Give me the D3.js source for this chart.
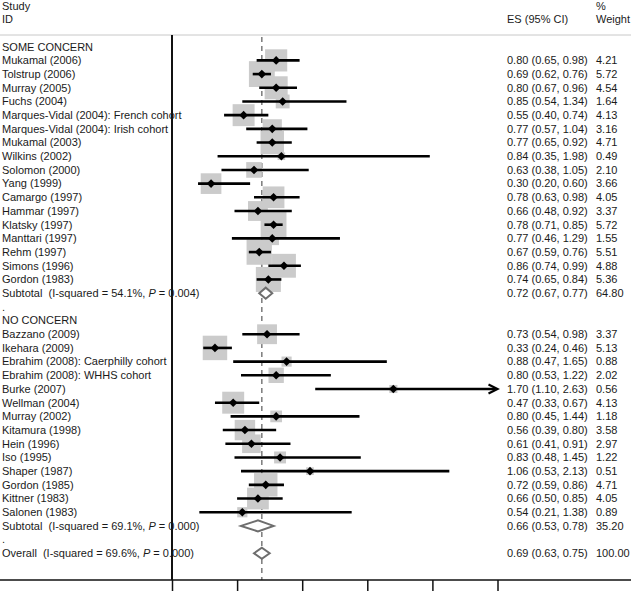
<!DOCTYPE html>
<html><head><meta charset="utf-8">
<script src="https://cdn.jsdelivr.net/npm/d3@7"></script>
<style>body{margin:0;background:#fff;} svg{display:block;} text{font-family:"Liberation Sans",Arial,sans-serif;font-size:11px;fill:#1a1a1a;}</style>
</head><body><svg id="c" width="631" height="591"></svg>
<script>
const group1Name = "SOME CONCERN";
const group1Studies = ["Mukamal (2006)","Tolstrup (2006)","Murray (2005)","Fuchs (2004)","Marques-Vidal (2004): French cohort","Marques-Vidal (2004): Irish cohort","Mukamal (2003)","Wilkins (2002)","Solomon (2000)","Yang (1999)","Camargo (1997)","Hammar (1997)","Klatsky (1997)","Manttari (1997)","Rehm (1997)","Simons (1996)","Gordon (1983)"];
const group1ES = [0.80,0.69,0.80,0.85,0.55,0.77,0.77,0.84,0.63,0.30,0.78,0.66,0.78,0.77,0.67,0.86,0.74];
const group1Lo = [0.65,0.62,0.67,0.54,0.40,0.57,0.65,0.35,0.38,0.20,0.63,0.48,0.71,0.46,0.59,0.74,0.65];
const group1Hi = [0.98,0.76,0.96,1.34,0.74,1.04,0.92,1.98,1.05,0.60,0.98,0.92,0.85,1.29,0.76,0.99,0.84];
const group1W  = ["4.21","5.72","4.54","1.64","4.13","3.16","4.71","0.49","2.10","3.66","4.05","3.37","5.72","1.55","5.51","4.88","5.36"];
const group1Sub = {label:"Subtotal  (I-squared = 54.1%, ", p:"0.004", es:0.72, lo:0.67, hi:0.77, w:"64.80"};

const group2Name = "NO CONCERN";
const group2Studies = ["Bazzano (2009)","Ikehara (2009)","Ebrahim (2008): Caerphilly cohort","Ebrahim (2008): WHHS cohort","Burke (2007)","Wellman (2004)","Murray (2002)","Kitamura (1998)","Hein (1996)","Iso (1995)","Shaper (1987)","Gordon (1985)","Kittner (1983)","Salonen (1983)"];
const group2ES = [0.73,0.33,0.88,0.80,1.70,0.47,0.80,0.56,0.61,0.83,1.06,0.72,0.66,0.54];
const group2Lo = [0.54,0.24,0.47,0.53,1.10,0.33,0.45,0.39,0.41,0.48,0.53,0.59,0.50,0.21];
const group2Hi = [0.98,0.46,1.65,1.22,2.63,0.67,1.44,0.80,0.91,1.45,2.13,0.86,0.85,1.38];
const group2W  = ["3.37","5.13","0.88","2.02","0.56","4.13","1.18","3.58","2.97","1.22","0.51","4.71","4.05","0.89"];
const group2Sub = {label:"Subtotal  (I-squared = 69.1%, ", p:"0.000", es:0.66, lo:0.53, hi:0.78, w:"35.20"};

const overall = {label:"Overall  (I-squared = 69.6%, ", p:"0.000", es:0.69, lo:0.63, hi:0.75, w:"100.00"};
const xTicks = [0,0.5,1,1.5,2,2.5];

const fmt = d3.format(".2f");
// build rows
const rows = [];
function addGroup(name, st, es, lo, hi, w, sub){
  rows.push({type:"head", label:name});
  st.forEach((s,i)=>rows.push({type:"study", label:s, es:es[i], lo:lo[i], hi:hi[i], w:w[i]}));
  rows.push(Object.assign({type:"sub"}, sub));
  rows.push({type:"dot"});
}
addGroup(group1Name, group1Studies, group1ES, group1Lo, group1Hi, group1W, group1Sub);
addGroup(group2Name, group2Studies, group2ES, group2Lo, group2Hi, group2W, group2Sub);
rows.push(Object.assign({type:"sub"}, overall));
rows.forEach((r,i)=>r.i=i);

const svg = d3.select("#c");
const x = d3.scaleLinear().domain([0,2.5]).range([172,497.5]);
const y = d3.scaleLinear().domain([0,37]).range([46.7,553.3]);
const axisY = 580;
const boxK = 10.8;

// headers
svg.append("text").attr("x",2).attr("y",10).text("Study");
svg.append("text").attr("x",2).attr("y",23).text("ID");
svg.append("text").attr("x",507).attr("y",23).text("ES (95% CI)");
svg.append("text").attr("x",596).attr("y",10).text("%");
svg.append("text").attr("x",596).attr("y",23).text("Weight");
svg.append("line").attr("x1",0).attr("x2",631).attr("y1",35).attr("y2",35).attr("stroke","#c8c8c8").attr("stroke-width",1);

// dashed overall line
svg.append("line").attr("x1",x(overall.es)).attr("x2",x(overall.es)).attr("y1",37).attr("y2",axisY)
  .attr("stroke","#666").attr("stroke-width",1.3).attr("stroke-dasharray","5,4");

// boxes
const studies = rows.filter(r=>r.type==="study");
svg.selectAll("rect.box").data(studies).enter().append("rect").attr("class","box")
  .attr("x",d=>x(d.es)-boxK*Math.sqrt(+d.w)/2).attr("y",d=>y(d.i)-boxK*Math.sqrt(+d.w)/2)
  .attr("width",d=>boxK*Math.sqrt(+d.w)).attr("height",d=>boxK*Math.sqrt(+d.w))
  .attr("fill","#cbcbcb");

// null line
svg.append("line").attr("x1",x(0)).attr("x2",x(0)).attr("y1",35).attr("y2",axisY).attr("stroke","#111").attr("stroke-width",2);

// CI lines
svg.selectAll("line.ci").data(studies).enter().append("line").attr("class","ci")
  .attr("x1",d=>x(d.lo)).attr("x2",d=>x(Math.min(d.hi,2.5))-(d.hi>2.5?2:0))
  .attr("y1",d=>y(d.i)).attr("y2",d=>y(d.i)).attr("stroke","#000").attr("stroke-width",2.6);
// arrows for clipped
svg.selectAll("path.arrow").data(studies.filter(d=>d.hi>2.5)).enter().append("path").attr("class","arrow")
  .attr("d",d=>{const xe=x(2.5), yy=y(d.i); return `M${xe-9},${yy-4.5} L${xe},${yy} L${xe-9},${yy+4.5}`;})
  .attr("fill","none").attr("stroke","#000").attr("stroke-width",2.2);
// points
svg.selectAll("path.pt").data(studies).enter().append("path").attr("class","pt")
  .attr("d",d=>{const cx=x(d.es), cy=y(d.i), h=4.3; return `M${cx},${cy-h} L${cx+h},${cy} L${cx},${cy+h} L${cx-h},${cy} Z`;})
  .attr("fill","#000");

// diamonds
const subs = rows.filter(r=>r.type==="sub");
svg.selectAll("path.dia").data(subs).enter().append("path").attr("class","dia")
  .attr("d",d=>{const cy=y(d.i), h=5.5; return `M${x(d.lo)},${cy} L${x(d.es)},${cy-h} L${x(d.hi)},${cy} L${x(d.es)},${cy+h} Z`;})
  .attr("fill","#fff").attr("stroke","#6e6e6e").attr("stroke-width",2);

// labels
rows.forEach(r=>{
  const yy = y(r.i);
  if(r.type==="head"){
    svg.append("text").attr("x",2).attr("y",yy).attr("dy","0.35em").text(r.label);
  } else if(r.type==="dot"){
    svg.append("text").attr("x",2).attr("y",yy).attr("dy","0.35em").text(".");
  } else if(r.type==="study"){
    svg.append("text").attr("x",2).attr("y",yy).attr("dy","0.35em").text(r.label);
    svg.append("text").attr("x",507).attr("y",yy).attr("dy","0.35em").text(`${fmt(r.es)} (${fmt(r.lo)}, ${fmt(r.hi)})`);
    svg.append("text").attr("x",596).attr("y",yy).attr("dy","0.35em").text(r.w);
  } else {
    const t = svg.append("text").attr("x",2).attr("y",yy).attr("dy","0.35em").attr("xml:space","preserve");
    t.append("tspan").text(r.label);
    t.append("tspan").attr("font-style","italic").text("P");
    t.append("tspan").text(" = " + r.p + ")");
    svg.append("text").attr("x",507).attr("y",yy).attr("dy","0.35em").text(`${fmt(r.es)} (${fmt(r.lo)}, ${fmt(r.hi)})`);
    svg.append("text").attr("x",596).attr("y",yy).attr("dy","0.35em").text(r.w);
  }
});

// axis
svg.append("line").attr("x1",0).attr("x2",631).attr("y1",axisY).attr("y2",axisY).attr("stroke","#111").attr("stroke-width",1.5);
const ax = svg.append("g").attr("transform",`translate(0,${axisY})`)
  .call(d3.axisBottom(x).tickValues(xTicks).tickSize(14).tickFormat(""));
ax.select(".domain").remove();
ax.selectAll(".tick line").attr("stroke","#111").attr("stroke-width",1.5);
</script></body></html>
